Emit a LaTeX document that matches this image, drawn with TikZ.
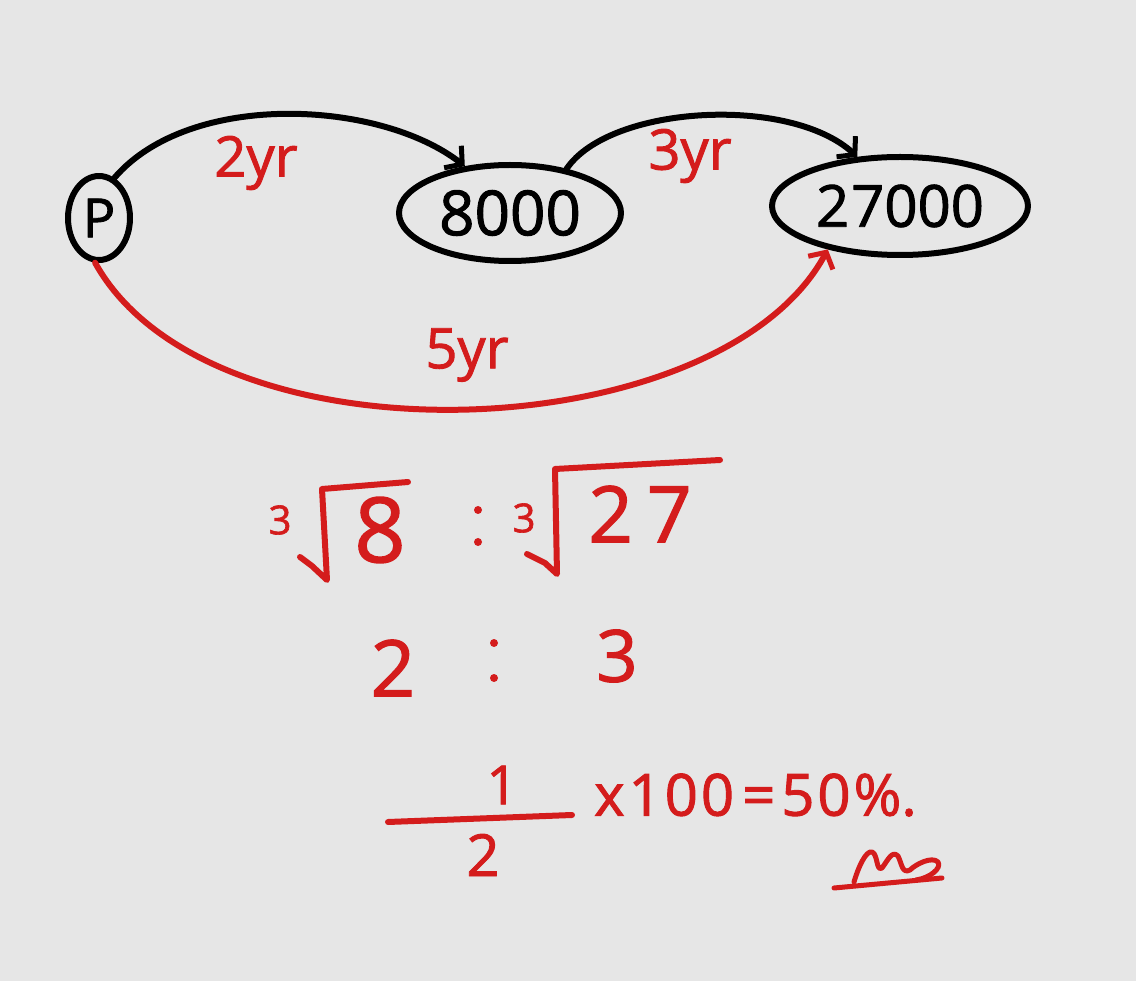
\documentclass[tikz,border=0pt]{standalone}
\usepackage{fontspec}
\setmainfont[FakeBold=1.6]{Open Sans}
\usetikzlibrary{arrows.meta,shapes.geometric}
\definecolor{bg}{RGB}{230,230,230}
\definecolor{ink}{RGB}{212,28,28}
\begin{document}
\begin{tikzpicture}[x=1pt,y=-1pt,
  stroke/.style={line width=6pt,line cap=round,line join=round},
  bubble/.style={draw,ellipse,stroke,inner sep=0pt},
  redtext/.style={text=ink,inner sep=0pt},
  tip/.style={-{Straight Barb[length=12pt,width=28pt,line width=5pt]}},
  fs/.style={font=\fontsize{#1}{#1}\selectfont}
]
\fill[bg] (0,0) rectangle (1136,981);
\useasboundingbox (0,0) rectangle (1136,981);
% nodes
\node[bubble,minimum width=62pt,minimum height=84pt,fs=54] (P) at (99,218) {P};
\node[bubble,minimum width=222pt,minimum height=96pt,fs=62] (A) at (510,213) {8000};
\node[bubble,minimum width=256pt,minimum height=98pt,fs=58] (B) at (900,206) {2\hspace{2pt}7000};
% connectors
\draw[stroke,tip] (P.69) .. controls (190,90) and (380,100) .. (A.134);
\draw[stroke,tip] (A.38) .. controls (610,105) and (790,95) .. (B.131);
\draw[stroke,tip,draw=ink] (P.265) .. controls (210,470) and (720,450) .. (B.211);
% labels
\node[redtext,fs=56] (l2) at (256,163) {2yr};
\node[redtext,fs=56] (l3) at (690,156) {3yr};
\node[redtext,fs=56] (l5) at (467,355) {5yr};
% cube roots
\node[redtext,fs=40] (i1) at (280,520) {3};
\draw[stroke,draw=ink] (300,557) -- (312,566) -- (327,580) -- (322,489) -- (408,482);
\node[redtext,fs=90] (e8) at (380,530) {8};
\fill[ink] (478,510) circle (4) (478,542) circle (4);
\node[redtext,fs=40] (i2) at (524,518) {3};
\draw[stroke,draw=ink] (527,554) -- (545,563) -- (557,574) -- (555,469) -- (720,460);
\node[redtext,fs=78] (e27) at (640,514) {2\hspace{14pt}7};
% second row
\node[redtext,fs=78] (r2) at (393,668) {2};
\fill[ink] (494,643) circle (4) (494,678) circle (4);
\node[redtext,fs=72] (r3) at (617,656) {3};
% fraction
\node[redtext,fs=54] (n1) at (502,785) {1};
\draw[stroke,draw=ink] (388,822) -- (572,815);
\node[redtext,fs=58] (d2) at (483,855) {2};
\node[redtext,fs=58,anchor=west] (res) at (594,795) {x\hspace{4pt}1\hspace{3pt}0\hspace{3pt}0\hspace{8pt}=\hspace{6pt}5\hspace{3pt}0\hspace{3pt}\%.};
% answer mark
\draw[stroke,draw=ink,line width=5pt] (854,882) .. controls (858,868) and (866,850) .. (872,852)
  .. controls (878,854) and (876,872) .. (882,868) .. controls (888,860) and (892,850) .. (898,856)
  .. controls (902,864) and (902,874) .. (910,870) .. controls (916,864) and (932,856) .. (938,862)
  .. controls (942,868) and (930,878) .. (916,880);
\draw[stroke,draw=ink,line width=5pt] (834,888) -- (942,878);
\end{tikzpicture}
\end{document}
